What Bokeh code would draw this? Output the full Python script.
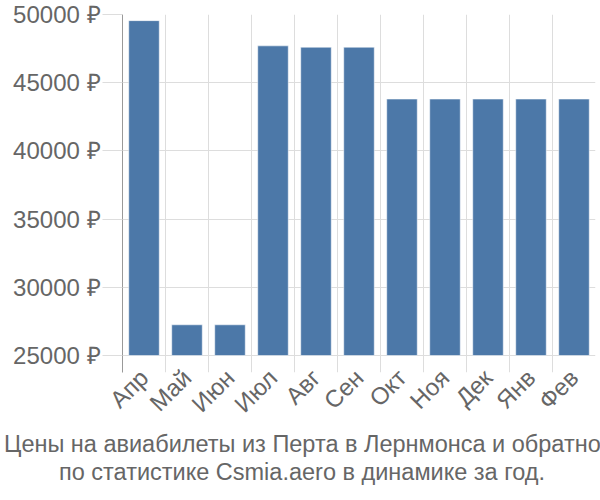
import math
from bokeh.plotting import figure
from bokeh.models import FixedTicker, Range1d, Title, CustomJSTickFormatter
from bokeh.embed import file_html
from bokeh.resources import INLINE

months = ["Апр", "Май", "Июн", "Июл", "Авг", "Сен", "Окт", "Ноя", "Дек", "Янв", "Фев"]
prices = [49550, 27250, 27250, 47700, 47600, 47600, 43800, 43800, 43800, 43800, 43800]
y_ticks = [25000, 30000, 35000, 40000, 45000, 50000]
y_min = 25000
y_max = 50000
title_lines = ["Цены на авиабилеты из Перта в Лернмонса и обратно",
               "по статистике Csmia.aero в динамике за год."]

FONT = "Liberation Sans"
TXT = "#666666"
GRID = "#dddddd"
FS = "24px"

W, H = 600, 500
LEFT, RIGHT, TOP = 122, 5, 14
PLOT_H = 341      # pixels spanned by y_min..y_max
TICK_LEN = 17     # boundary tick length below the baseline
BOTTOM = H - TOP - PLOT_H - TICK_LEN

# extend the frame below y_min so that vertical grid lines act as the boundary ticks
y_low = y_max - (y_max - y_min) * (PLOT_H + TICK_LEN) / PLOT_H

n = len(months)
centers = [i + 0.5 for i in range(n)]
bounds = list(range(n + 1))

p = figure(width=W, height=H, output_backend="svg", toolbar_location=None,
           x_range=Range1d(0, n), y_range=Range1d(y_low, y_max),
           min_border_left=LEFT, min_border_right=RIGHT, min_border_top=TOP,
           min_border_bottom=BOTTOM)
p.outline_line_color = None

p.vbar(x=centers, top=prices, bottom=y_min, width=0.71,
       fill_color="#4c78a8", line_color="white", line_alpha=0.5, line_width=1)

# x axis
xa = p.xaxis[0]
xa.ticker = FixedTicker(ticks=centers)
xa.major_label_overrides = {c: m for c, m in zip(centers, months)}
xa.major_label_orientation = math.pi / 4
xa.major_tick_line_color = None
xa.major_tick_out = 0
xa.major_tick_in = 0
xa.minor_tick_line_color = None
xa.axis_line_color = None
xa.major_label_text_font = FONT
xa.major_label_text_font_size = FS
xa.major_label_text_color = TXT
xa.major_label_standoff = 1

# y axis
ya = p.yaxis[0]
ya.ticker = FixedTicker(ticks=y_ticks)
ya.formatter = CustomJSTickFormatter(code="return tick + ' ₽';")
ya.axis_line_color = "#999999"
ya.major_tick_line_color = GRID
ya.major_tick_out = 20
ya.major_tick_in = 0
ya.minor_tick_line_color = None
ya.major_label_text_font = FONT
ya.major_label_text_font_size = FS
ya.major_label_text_color = TXT
ya.major_label_standoff = 2

p.xgrid.ticker = FixedTicker(ticks=bounds)
p.xgrid.grid_line_color = GRID
p.ygrid.ticker = FixedTicker(ticks=y_ticks)
p.ygrid.grid_line_color = GRID

# titles below, left-aligned with offsets so they are centred on the whole canvas
for line, start_x, so in zip(title_lines, [3.5, 58.5], [-3, 3]):
    t = Title(text=line, align="left", offset=start_x - LEFT, standoff=so,
              text_font=FONT, text_font_size="23.5px", text_color=TXT,
              text_font_style="normal")
    p.add_layout(t, "below")

open("out.html", "w").write(file_html(p, INLINE))
